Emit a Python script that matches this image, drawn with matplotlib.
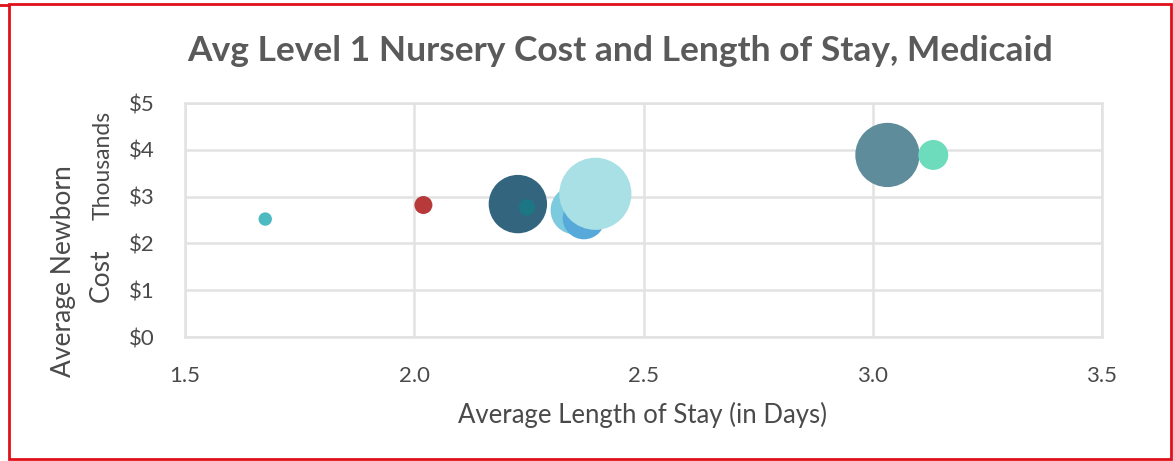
import matplotlib
matplotlib.use("Agg")
import matplotlib.pyplot as plt
from matplotlib.patches import Rectangle
from matplotlib.lines import Line2D
from matplotlib.ticker import FuncFormatter

# Data (hospitals / groups)
length_of_stay = [1.675, 2.02, 2.226, 2.246, 2.35, 2.37, 2.395, 3.032, 3.132]
avg_cost_thousands = [2.52, 2.82, 2.84, 2.77, 2.71, 2.54, 3.06, 3.89, 3.89]
volume = [10, 18, 190, 15, 130, 100, 290, 230, 50]
colors = ["#4db9c1", "#b8393a", "#33657f", "#1d7683", "#7ccadd",
          "#56a9d8", "#a8e0e5", "#5e8c9b", "#6cdcbc"]

x_ticks = [1.5, 2.0, 2.5, 3.0, 3.5]
y_ticks = [0, 1, 2, 3, 4, 5]

plt.rcParams['font.family'] = ['Lato', 'DejaVu Sans']

fig = plt.figure(figsize=(11.73, 4.61), dpi=100)
ax = fig.add_axes([185/1173, 1-337/461, (1102-185)/1173, (337-103)/461])

# draw order: larger behind as in reference
order = [0, 1, 4, 5, 6, 2, 3, 7, 8]
for i in order:
    ax.scatter(length_of_stay[i], avg_cost_thousands[i], s=volume[i]*9.3,
               color=colors[i], edgecolors='none', zorder=3)

ax.set_xlim(1.5, 3.5)
ax.set_ylim(0, 5)
ax.set_xticks(x_ticks)
ax.set_yticks(y_ticks)
ax.xaxis.set_major_formatter(FuncFormatter(lambda v, p: f"{v:.1f}"))
ax.yaxis.set_major_formatter(FuncFormatter(lambda v, p: f"${int(v)}"))
ax.grid(True, color="#e2e2e2", linewidth=1.8, zorder=0)
ax.set_axisbelow(True)
for s in ax.spines.values():
    s.set_color("#e2e2e2")
    s.set_linewidth(1.8)
ax.tick_params(length=0, labelsize=16, labelcolor="#4a4a4a")
ax.tick_params(axis='x', pad=21)
ax.tick_params(axis='y', pad=22)

fig.text(620/1173, 1-51/461, "Avg Level 1 Nursery Cost and Length of Stay, Medicaid",
         ha='center', va='center', fontsize=25.5, fontweight='bold', color="#5a5a5a")
fig.text(642/1173, 1-415/461, "Average Length of Stay (in Days)",
         ha='center', va='center', fontsize=18.5, color="#4a4a4a")
fig.text(63/1173, 1-271/461, "Average Newborn",
         ha='center', va='center', fontsize=19, color="#4a4a4a", rotation=90)
fig.text(101/1173, 1-275/461, "Cost",
         ha='center', va='center', fontsize=19, color="#4a4a4a", rotation=90)
fig.text(103/1173, 1-165/461, "Thousands",
         ha='center', va='center', fontsize=16.5, color="#4a4a4a", rotation=90)

# red frame
fig.add_artist(Rectangle((9/1173, 1-459/461), (1171-9)/1173, (459-4)/461,
                         transform=fig.transFigure, fill=False,
                         edgecolor="#e0101a", linewidth=2))
fig.add_artist(Line2D([0, 9/1173], [1-5/461, 1-5/461], transform=fig.transFigure,
                      color="#e0101a", linewidth=2))

fig.savefig("out.png", dpi=100)
